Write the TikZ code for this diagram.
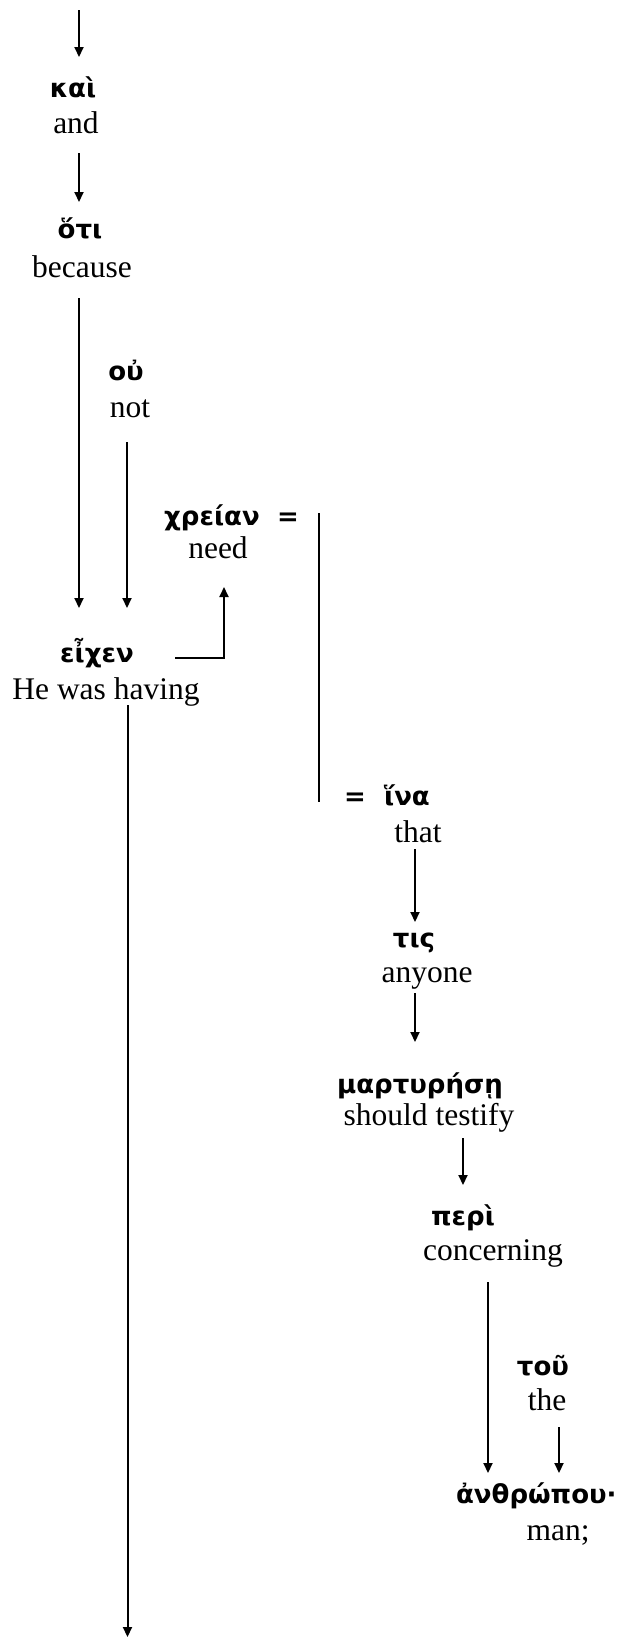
\documentclass[tikz,border=0pt]{standalone}
\usepackage{fontspec}
\setmainfont{Liberation Serif}
\newfontfamily\grk[Script=Greek]{DejaVu Sans}
\usetikzlibrary{arrows.meta}
\begin{document}
\begin{tikzpicture}[x=0.5pt,y=-0.5pt,
  eng/.style={anchor=base, inner sep=0pt, font=\fontsize{15.75}{18}\selectfont},
  gk/.style={anchor=base, inner sep=0pt, font=\grk\bfseries\fontsize{13}{16}\selectfont},
  link/.style={line width=1pt, -{Triangle[width=4.5pt,length=5pt]}},
  bar/.style={line width=1pt}]
\useasboundingbox (0,0) rectangle (618,1639);

% words: Greek above, gloss below
\node[gk]  (kai)     at (73,97)    {καὶ};
\node[eng] (and)     at (76,133)   {and};
\node[gk]  (hoti)    at (80,238)   {ὅτι};
\node[eng] (because) at (82,277)   {because};
\node[gk]  (ou)      at (126,380)  {οὐ};
\node[eng] (not)     at (130,417)  {not};
\node[gk]  (chreian) at (212,525)  {χρείαν};
\node[gk]  (eqa)     at (288,525)  {=};
\node[eng] (need)    at (218,558)  {need};
\node[gk]  (eichen)  at (97,662)   {εἶχεν};
\node[eng] (having)  at (106,699)  {He was having};
\node[gk]  (eqb)     at (355,805)  {=};
\node[gk]  (hina)    at (407,805)  {ἵνα};
\node[eng] (that)    at (418,842)  {that};
\node[gk]  (tis)     at (414,947)  {τις};
\node[eng] (anyone)  at (427,982)  {anyone};
\node[gk]  (martyr)  at (420,1093) {μαρτυρήσῃ};
\node[eng] (testify) at (429,1125) {should testify};
\node[gk]  (peri)    at (463,1225) {περὶ};
\node[eng] (concern) at (493,1260) {concerning};
\node[gk]  (tou)     at (543,1375) {τοῦ};
\node[eng] (the)     at (547,1410) {the};
\node[gk, anchor=base east] (anthr) at (617,1503) {ἀνθρώπου·};
\node[eng] (man)     at (558,1540) {man;};

% connector end points
\coordinate (in0)  at (79,10);
\coordinate (k0)   at (79,57);
\coordinate (a1)   at (79,153);
\coordinate (h1)   at (79,202);
\coordinate (b1)   at (79,298);
\coordinate (e1)   at (79,608);
\coordinate (n1)   at (127,442);
\coordinate (e2)   at (127,608);
\coordinate (hv1)  at (175,658);
\coordinate (hv2)  at (224,658);
\coordinate (nd1)  at (224,587);
\coordinate (bra)  at (319,513);
\coordinate (brb)  at (319,802);
\coordinate (t1)   at (415,849);
\coordinate (t2)   at (415,922);
\coordinate (an1)  at (415,993);
\coordinate (an2)  at (415,1042);
\coordinate (s1)   at (463,1138);
\coordinate (s2)   at (463,1185);
\coordinate (c1)   at (488,1282);
\coordinate (c2)   at (488,1473);
\coordinate (th1)  at (559,1427);
\coordinate (th2)  at (559,1473);
\coordinate (hx1)  at (127.5,705);
\coordinate (out)  at (127.5,1637);

% connectors
\draw[link] (in0) -- (k0);
\draw[link] (a1) -- (h1);
\draw[link] (b1) -- (e1);
\draw[link] (n1) -- (e2);
\draw[link] (hv1) -- (hv2) -- (nd1);
\draw[bar]  (bra) -- (brb);
\draw[link] (t1) -- (t2);
\draw[link] (an1) -- (an2);
\draw[link] (s1) -- (s2);
\draw[link] (c1) -- (c2);
\draw[link] (th1) -- (th2);
\draw[link] (hx1) -- (out);
\end{tikzpicture}
\end{document}
